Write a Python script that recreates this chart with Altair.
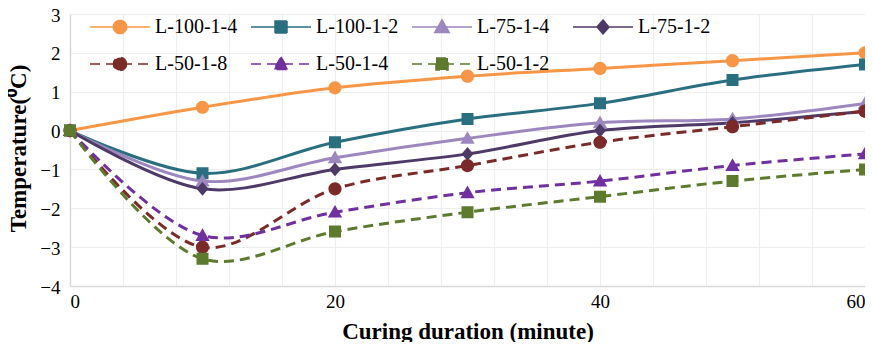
import altair as alt
import pandas as pd

minutes = [0, 10, 20, 30, 40, 50, 60]
series_names = ["L-100-1-4", "L-100-1-2", "L-75-1-4", "L-75-1-2",
                "L-50-1-8", "L-50-1-4", "L-50-1-2"]
l100_1_4 = [0, 0.6, 1.1, 1.4, 1.6, 1.8, 2.0]
l100_1_2 = [0, -1.1, -0.3, 0.3, 0.7, 1.3, 1.7]
l75_1_4 = [0, -1.3, -0.7, -0.2, 0.2, 0.3, 0.7]
l75_1_2 = [0, -1.5, -1.0, -0.6, 0.0, 0.2, 0.5]
l50_1_8 = [0, -3.0, -1.5, -0.9, -0.3, 0.1, 0.5]
l50_1_4 = [0, -2.7, -2.1, -1.6, -1.3, -0.9, -0.6]
l50_1_2 = [0, -3.3, -2.6, -2.1, -1.7, -1.3, -1.0]
x_ticks = [0, 20, 40, 60]
y_ticks = [-4, -3, -2, -1, 0, 1, 2, 3]

colors = ["#F79646", "#2A6F7F", "#9C87BE", "#4E3A66", "#7B2A2A", "#7030A0", "#5E7A2E"]
solid = [1, 0]
dashed = [10, 6]
dashes = [solid, solid, solid, solid, dashed, dashed, dashed]
solid_series = series_names[:4]
dashed_series = series_names[4:]

# custom symbols: a horizontal legend line (invisible on the chart) + marker
line_part = "M-5,0H5"
circle = line_part + "M1.1,0A1.1,1.1,0,1,1,-1.1,0A1.1,1.1,0,1,1,1.1,0Z"
square = line_part + "M-1,-1H1V1H-1Z"
triangle = line_part + "M0,-1.2L1.2,0.9H-1.2Z"
diamond = line_part + "M0,-1.15L1,0L0,1.15L-1,0Z"
shapes = [circle, square, triangle, diamond, circle, triangle, square]

all_values = [l100_1_4, l100_1_2, l75_1_4, l75_1_2, l50_1_8, l50_1_4, l50_1_2]
rows = []
for name, vals in zip(series_names, all_values):
    for m, v in zip(minutes, vals):
        rows.append({"series": name, "minute": m, "temp": v})
df = pd.DataFrame(rows)
df["order"] = df["series"].map({n: i for i, n in enumerate(series_names)})

FONT = "Liberation Serif, Times New Roman, Times, serif"

x_enc = alt.X("minute:Q",
              scale=alt.Scale(domain=[0, 60], nice=False),
              axis=alt.Axis(values=list(range(0, 61, 4)),
                            labelExpr="indexof(" + str(x_ticks) + ", datum.value) >= 0 ? datum.label : ''",
                            labelFlush=True, labelPadding=6,
                            title="Curing duration (minute)",
                            titleY=45, titleBaseline="middle"))
y_enc = alt.Y("temp:Q",
              scale=alt.Scale(domain=[-4, 3], nice=False),
              axis=alt.Axis(values=y_ticks, title="Temperature(\u2070C)",
                            titleX=-52, titleY=134, titleAngle=270,
                            titleAlign="center", titleBaseline="middle",
                            labelOffset=1, labelPadding=10))

# the line colour scale uses the reversed order so it stays apart from the legend
color_enc = alt.Color("series:N",
                      scale=alt.Scale(domain=series_names[::-1], range=colors[::-1]),
                      legend=None)

solid_lines = alt.Chart(df).transform_filter(
    alt.FieldOneOfPredicate(field="series", oneOf=solid_series)
).mark_line(interpolate="catmull-rom", strokeWidth=3).encode(
    x=x_enc, y=y_enc, color=color_enc, detail="series:N")

dashed_lines = alt.Chart(df).transform_filter(
    alt.FieldOneOfPredicate(field="series", oneOf=dashed_series)
).mark_line(interpolate="catmull-rom", strokeWidth=3, strokeDash=dashed, strokeCap="butt").encode(
    x=x_enc, y=y_enc, color=color_enc, detail="series:N")

legend = alt.Legend(orient="none", legendX=40, legendY=3, direction="horizontal",
                    columns=4, gridAlign="all", columnPadding=10, rowPadding=16,
                    symbolSize=144, labelOffset=25, labelFont=FONT, labelFontSize=20,
                    labelColor="#000000", title=None, padding=0)

points = alt.Chart(df).mark_point(size=144, opacity=1, strokeWidth=3, strokeCap="butt").encode(
    x=x_enc, y=y_enc,
    fill=alt.Fill("series:N", scale=alt.Scale(domain=series_names, range=colors), legend=legend),
    stroke=alt.Stroke("series:N", scale=alt.Scale(domain=series_names, range=colors), legend=legend),
    shape=alt.Shape("series:N", scale=alt.Scale(domain=series_names, range=shapes), legend=legend),
    strokeDash=alt.StrokeDash("series:N", scale=alt.Scale(domain=series_names, range=dashes), legend=legend),
    strokeOpacity=alt.value(0),
    order="order:Q",
)

chart = alt.layer(solid_lines, dashed_lines, points).properties(
    width=795, height=272,
    autosize=alt.AutoSizeParams(type="none"),
    padding={"left": 62, "top": 6, "right": 0, "bottom": 56},
).configure_view(stroke=None).configure_axis(
    labelFont=FONT, labelFontSize=19, labelColor="#000000",
    titleFont=FONT, titleFontSize=23, titleFontWeight="bold", titleColor="#000000",
    gridColor="#eeeeee", gridWidth=1.2, domainColor="#d9d9d9", domainWidth=1.5,
    ticks=False,
)

chart.save("out.html", embed_options={"renderer": "svg", "actions": False})
